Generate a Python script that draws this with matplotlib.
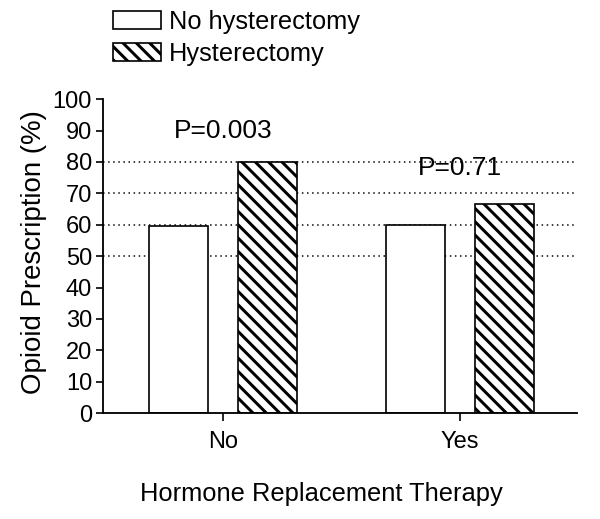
import numpy as np
import matplotlib.pyplot as plt
from matplotlib.patches import Patch

plt.rcParams["font.family"] = ["Liberation Sans", "DejaVu Sans"]
plt.rcParams["hatch.linewidth"] = 1.8

groups = ["No", "Yes"]
series = ["No hysterectomy", "Hysterectomy"]
no_hyst = [59.7, 60.0]
hyst = [80.0, 66.7]
p_labels = ["P=0.003", "P=0.71"]
p_heights = [89.8, 78.0]
grid_levels = [50, 60, 70, 80]

# dpi 120 so that the hatch spacing comes out like the original
DPI = 120
fig = plt.figure(figsize=(600 / DPI, 519 / DPI), dpi=DPI)
ax = fig.add_axes([0.172, 0.204, 0.790, 0.605])

centers = np.array([2.53, 7.53])
off = 0.94
w = 1.245

for y in grid_levels:
    ax.axhline(y, color="black", ls=(0, (1, 2.4)), lw=0.9, zorder=0)

ax.bar(centers - off, no_hyst, w, facecolor="white", edgecolor="black",
       lw=1.0, zorder=2)
ax.bar(centers + off, hyst, w, facecolor="white", edgecolor="black",
       hatch="\\\\\\", lw=1.0, zorder=2)

for c, t, h in zip(centers, p_labels, p_heights):
    ax.text(c, h, t, ha="center", va="center", fontsize=15.8, zorder=3)

ax.set_xlim(0, 10)
ax.set_ylim(0, 100)
ax.set_yticks(range(0, 101, 10))
ax.set_xticks(centers)
ax.set_xticklabels(groups)
ax.tick_params(axis="both", labelsize=14.2, width=1.0, length=4.2,
               direction="out", pad=2.5)
ax.tick_params(axis="x", length=5, pad=6)
ax.spines["top"].set_visible(False)
ax.spines["right"].set_visible(False)
for s in ("left", "bottom"):
    ax.spines[s].set_linewidth(1.1)

ax.set_xlabel("Hormone Replacement Therapy", fontsize=15.3, labelpad=15)
ax.xaxis.set_label_coords(0.46, -0.22)
ax.set_ylabel("Opioid Prescription (%)", fontsize=16.6, labelpad=4)
ax.yaxis.set_label_coords(-0.118, 0.513)

handles = [Patch(facecolor="white", edgecolor="black", lw=1.0),
           Patch(facecolor="white", edgecolor="black", hatch="\\\\\\", lw=1.0)]
fig.legend(handles, series, loc="upper left", bbox_to_anchor=(0.163, 1.01),
           frameon=False, fontsize=15.2, handlelength=1.9, handleheight=0.7,
           handletextpad=0.32, labelspacing=0.3, borderaxespad=0.2)

fig.savefig("out.png", dpi=DPI)
